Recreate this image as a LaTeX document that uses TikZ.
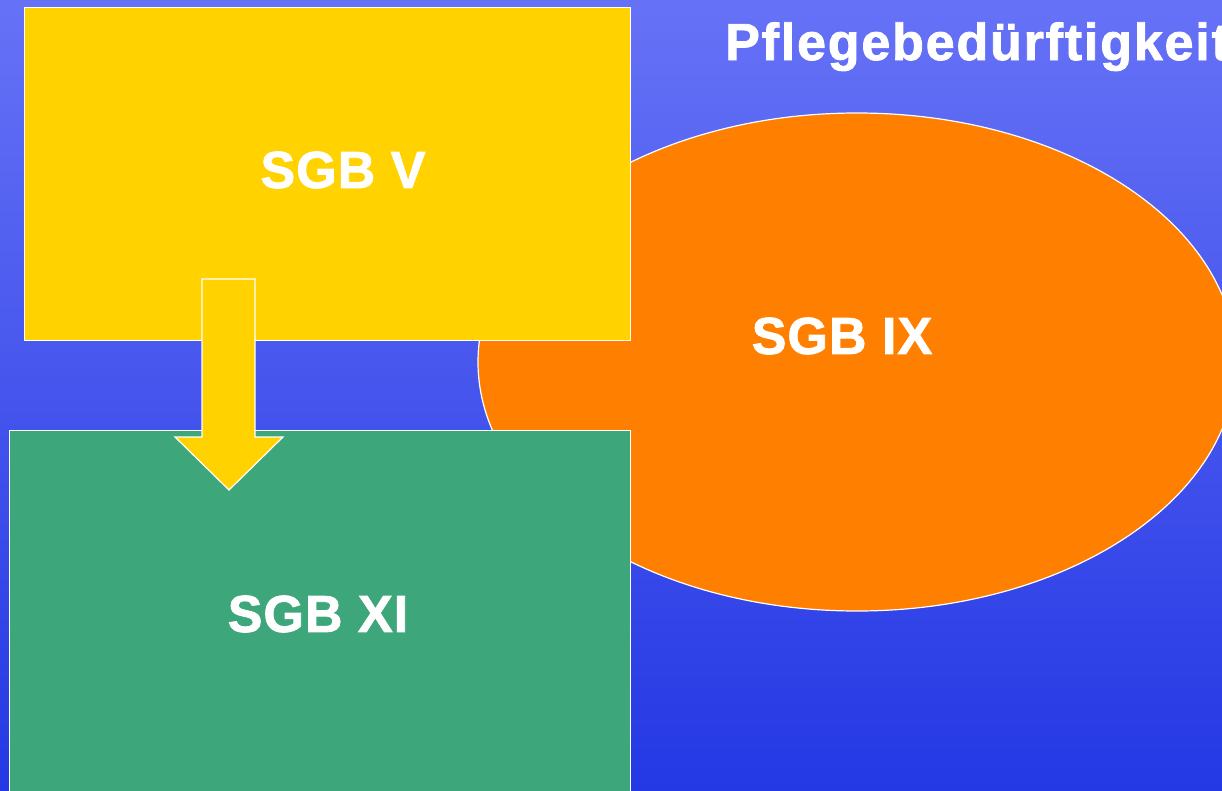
\documentclass[tikz,border=0pt]{standalone}
\usepackage{fontspec}
\setmainfont{Liberation Sans}
\newfontfamily\heavyfont[FakeBold=1.6,LetterSpace=2]{Liberation Sans Bold}
\newfontfamily\heavytitle[FakeBold=1.6,LetterSpace=3.5]{Liberation Sans Bold}
\usetikzlibrary{shapes.geometric}
\definecolor{bgtop}{RGB}{102,114,246}
\definecolor{bgbot}{RGB}{36,56,228}
\definecolor{gold}{RGB}{255,210,0}
\definecolor{sgbgreen}{RGB}{62,166,123}
\definecolor{sgborange}{RGB}{255,127,0}
\tikzset{
  block/.style={draw=white, line width=1.2pt, inner sep=0pt, anchor=north west},
  lbl/.style={text=white, font=\heavyfont\fontsize{52}{60}\selectfont}
}
\begin{document}
\begin{tikzpicture}[x=1pt,y=-1pt]
\useasboundingbox (0,0) rectangle (1222,790);
\clip (0,0) rectangle (1222,790);
\shade[top color=bgtop, bottom color=bgbot] (0,0) rectangle (1222,790);
\node[ellipse, draw=white, line width=1.2pt, fill=sgborange, minimum width=758pt, minimum height=498pt, inner sep=0pt] (ix) at (857,362) {};
\node[block, fill=gold, minimum width=606pt, minimum height=333pt] (v) at (24,7) {};
\node[block, fill=sgbgreen, minimum width=621pt, minimum height=380pt] (xi) at (9,430) {};
\coordinate (a1) at (202,279);
\coordinate (a2) at (255,279);
\coordinate (tip) at (229,490);
\draw[white, line width=1.2pt, fill=gold, line join=miter]
  (a1) -- (a2) -- (255,437) -- (283,437) -- (tip) -- (175,437) -- (202,437) -- cycle;
\node[lbl] (tv) at (343,170) {SGB V};
\node[lbl] (tix) at (842,336) {SGB IX};
\node[lbl] (txi) at (318,614) {SGB XI};
\node[text=white, font=\heavytitle\fontsize{52}{60}\selectfont, anchor=base west, inner sep=0pt] (tp) at (725,60) {Pflegebedürftigkeit};
\end{tikzpicture}
\end{document}
